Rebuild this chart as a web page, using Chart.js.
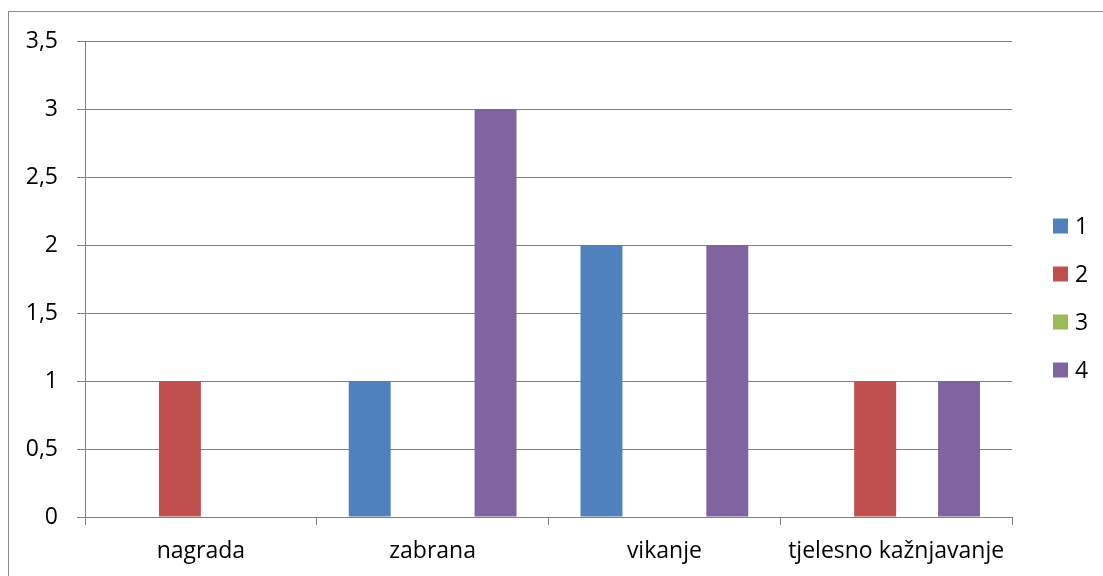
<!DOCTYPE html>
<html>
<head>
<meta charset="utf-8">
<script src="https://cdn.jsdelivr.net/npm/chart.js@4"></script>
<style>
  html, body { margin: 0; padding: 0; background: #fff; overflow: hidden; }
  #frame {
    position: absolute; left: 8px; top: 11px; width: 1200px; height: 700px;
    border-left: 1px solid #8c8c8c; border-top: 1px solid #8c8c8c;
  }
  #wrap { position: absolute; left: 0; top: 0; width: 1103px; height: 576px; }
</style>
</head>
<body>
<div id="frame"></div>
<div id="wrap"><canvas id="chart"></canvas></div>
<script>
        const categories = ['nagrada', 'zabrana', 'vikanje', 'tjelesno kažnjavanje'];
        const seriesNames = ['1', '2', '3', '4'];
        const series1 = [0, 1, 2, 0];
        const series2 = [1, 0, 0, 1];
        const series3 = [0, 0, 0, 0];
        const series4 = [0, 3, 2, 1];
        const colors = ['#4F81BD', '#C0504D', '#9BBB59', '#8064A2'];
        const axisColor = '#808080';
        const fontFamily = '"Open Sans", "Liberation Sans", sans-serif';

        // legend on the right, drawn by hand to match the original spacing
        const sideLegend = {
            id: 'sideLegend',
            afterDraw(chart) {
                const ctx = chart.ctx;
                ctx.save();
                ctx.font = '23px ' + fontFamily;
                ctx.textBaseline = 'middle';
                ctx.textAlign = 'left';
                chart.data.datasets.forEach((ds, i) => {
                    let cy = 226 + i * 48;
                    ctx.fillStyle = ds.backgroundColor;
                    ctx.fillRect(1053, cy - 7.5, 15, 15);
                    ctx.fillStyle = '#000';
                    ctx.fillText(ds.label, 1075, cy + 1);
                });
                ctx.restore();
            }
        };

        const allSeries = [series1, series2, series3, series4];

        new Chart(document.getElementById('chart'), {
            type: 'bar',
            data: {
                labels: categories,
                datasets: allSeries.map((values, i) => ({
                    label: seriesNames[i],
                    data: values,
                    backgroundColor: colors[i],
                    borderWidth: 0,
                    barPercentage: 1,
                    categoryPercentage: 0.724
                }))
            },
            options: {
                responsive: true,
                maintainAspectRatio: false,
                animation: false,
                layout: { padding: { top: 41, right: 91, left: 0, bottom: 0 } },
                plugins: {
                    legend: { display: false },
                    tooltip: { enabled: false }
                },
                scales: {
                    x: {
                        offset: true,
                        grid: {
                            offset: true,
                            drawOnChartArea: false,
                            drawTicks: true,
                            tickLength: 8,
                            color: axisColor
                        },
                        border: { color: axisColor },
                        ticks: {
                            color: '#000',
                            font: { family: fontFamily, size: 23 },
                            padding: 13,
                            maxRotation: 0,
                            autoSkip: false
                        },
                        afterFit(scale) { scale.height = 59; }
                    },
                    y: {
                        min: 0,
                        max: 3.5,
                        grid: {
                            color: axisColor,
                            tickLength: 8
                        },
                        border: { color: axisColor },
                        ticks: {
                            stepSize: 0.5,
                            color: '#000',
                            font: { family: fontFamily, size: 23 },
                            padding: 19,
                            callback: v => String(v).replace('.', ',')
                        },
                        afterFit(scale) { scale.width = 85; }
                    }
                }
            },
            plugins: [sideLegend]
        });
</script>
</body>
</html>
